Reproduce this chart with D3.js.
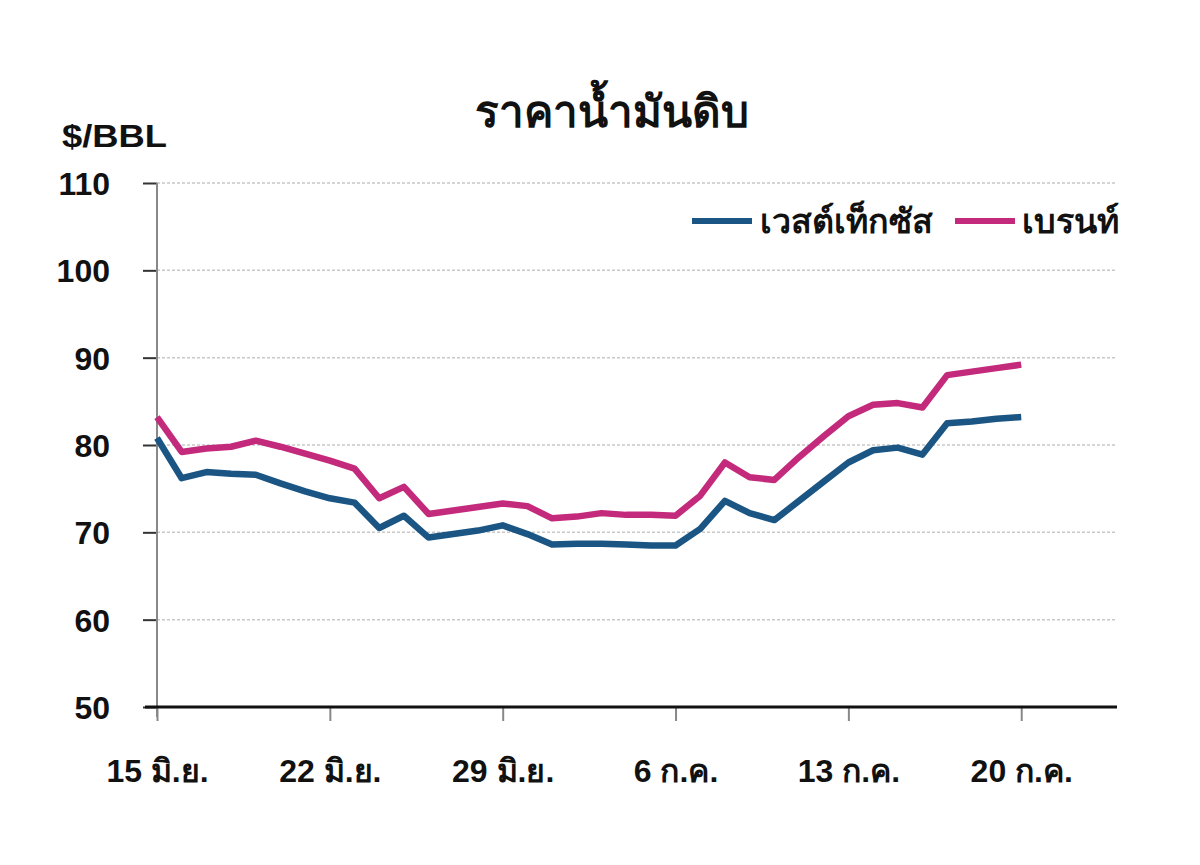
<!DOCTYPE html>
<html><head><meta charset="utf-8">
<script src="https://cdn.jsdelivr.net/npm/d3@7"></script>
<style>
body{margin:0;background:#fff;}
text{font-family:"Liberation Sans","DejaVu Sans",sans-serif;font-weight:bold;fill:#111;}
</style></head>
<body><svg id="c" width="1200" height="865"></svg>
<script>
const dates = ["2023-06-15","2023-06-16","2023-06-17","2023-06-18","2023-06-19","2023-06-20","2023-06-21","2023-06-22","2023-06-23","2023-06-24","2023-06-25","2023-06-26","2023-06-27","2023-06-28","2023-06-29","2023-06-30","2023-07-01","2023-07-02","2023-07-03","2023-07-04","2023-07-05","2023-07-06","2023-07-07","2023-07-08","2023-07-09","2023-07-10","2023-07-11","2023-07-12","2023-07-13","2023-07-14","2023-07-15","2023-07-16","2023-07-17","2023-07-18","2023-07-19","2023-07-20"];
const wti   = [80.8,76.2,76.9,76.7,76.6,75.6,74.7,73.9,73.4,70.5,71.9,69.4,69.8,70.2,70.8,69.8,68.6,68.7,68.7,68.6,68.5,68.5,70.4,73.6,72.2,71.4,73.6,75.8,78.0,79.4,79.7,78.9,82.5,82.7,83.0,83.2];
const brent = [83.2,79.2,79.6,79.8,80.5,79.8,79.0,78.2,77.3,73.9,75.2,72.1,72.5,72.9,73.3,73.0,71.6,71.8,72.2,72.0,72.0,71.9,74.2,78.0,76.3,76.0,78.6,81.0,83.3,84.6,84.8,84.3,88.0,88.4,88.8,89.2];
const seriesNames = ["เวสต์เท็กซัส","เบรนท์"];
const seriesColors = ["#1b5583","#c42a7b"];
const yTicks = [50,60,70,80,90,100,110];
const xTickDates = ["2023-06-15","2023-06-22","2023-06-29","2023-07-06","2023-07-13","2023-07-20"];
const xTickLabels = ["15 มิ.ย.","22 มิ.ย.","29 มิ.ย.","6 ก.ค.","13 ก.ค.","20 ก.ค."];
const title = "ราคาน้ำมันดิบ";
const unit = "$/BBL";

const parse = d3.utcParse("%Y-%m-%d");
const svg = d3.select("#c");
const x = d3.scaleUtc().domain([parse("2023-06-15"), parse("2023-07-24")]).range([157, 1120]);
const y = d3.scaleLinear().domain([50,110]).range([707,183]);

// grid
svg.append("g").selectAll("line").data(yTicks.filter(v=>v>50)).join("line")
  .attr("x1",157).attr("x2",1117).attr("y1",d=>y(d)).attr("y2",d=>y(d))
  .attr("stroke","#c8c8c8").attr("stroke-width",1.5).attr("stroke-dasharray","3,2");

// y axis
const ya = svg.append("g").attr("transform","translate(157,0)")
  .call(d3.axisLeft(y).tickValues(yTicks).tickSize(14).tickPadding(33));
ya.select(".domain").remove();
ya.selectAll(".tick line").attr("stroke","#333").attr("stroke-width",2);
ya.selectAll(".tick text").style("font-size","32px").attr("dy","0.36em");
svg.append("line").attr("x1",157).attr("x2",157).attr("y1",y(110)).attr("y2",y(50)+10)
  .attr("stroke","#888").attr("stroke-width",2);

// x axis
const xa = svg.append("g").attr("transform","translate(0,707)")
  .call(d3.axisBottom(x).tickValues(xTickDates.map(parse)).tickSize(14).tickPadding(38)
    .tickFormat((d,i)=>xTickLabels[i]));
xa.select(".domain").remove();
xa.selectAll(".tick line").attr("stroke","#888").attr("stroke-width",2);
xa.selectAll(".tick text").style("font-size","32px");
svg.append("line").attr("x1",145).attr("x2",1117).attr("y1",707).attr("y2",707)
  .attr("stroke","#111").attr("stroke-width",3);

// lines
const line = d3.line().x((d,i)=>x(parse(dates[i]))).y(d=>y(d));
[wti,brent].forEach((s,k)=>{
  svg.append("path").datum(s).attr("d",line).attr("fill","none")
    .attr("stroke",seriesColors[k]).attr("stroke-width",6.5).attr("stroke-linejoin","round");
});

// title
svg.append("text").attr("x",612).attr("y",127).attr("text-anchor","middle").style("font-size","44px").text(title);
svg.append("text").attr("x",62).attr("y",147).style("font-size","32px")
  .attr("textLength",105).attr("lengthAdjust","spacingAndGlyphs").text(unit);

// legend
const legX = [692, 955], legTX = [760, 1022];
seriesNames.forEach((n,k)=>{
  svg.append("line").attr("x1",legX[k]).attr("x2",legX[k]+60).attr("y1",221).attr("y2",221)
    .attr("stroke",seriesColors[k]).attr("stroke-width",6);
  svg.append("text").attr("x",legTX[k]).attr("y",233).style("font-size","34px").text(n);
});
</script></body></html>
